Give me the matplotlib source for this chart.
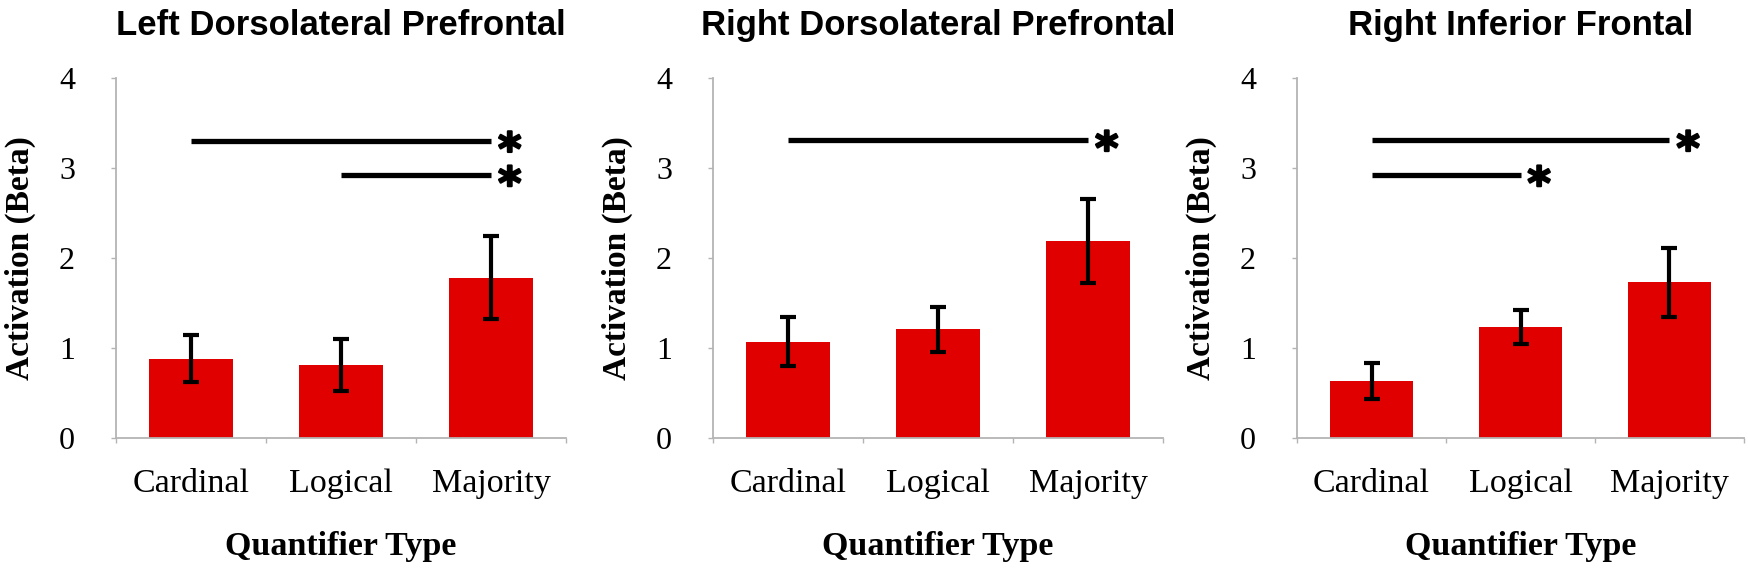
import numpy as np
import matplotlib.pyplot as plt
import matplotlib.patheffects as pe

# data
categories = ['Cardinal', 'Logical', 'Majority']
titles = ['Left Dorsolateral Prefrontal', 'Right Dorsolateral Prefrontal',
          'Right Inferior Frontal']

left_dlpfc = [0.88, 0.81, 1.78]
left_dlpfc_err = [0.26, 0.29, 0.46]
right_dlpfc = [1.07, 1.21, 2.19]
right_dlpfc_err = [0.27, 0.25, 0.47]
right_if = [0.63, 1.23, 1.73]
right_if_err = [0.20, 0.19, 0.385]

# significant pairs: (from, to, height)
left_dlpfc_sig = [(0, 2, 3.30), (1, 2, 2.92)]
right_dlpfc_sig = [(0, 2, 3.31)]
right_if_sig = [(0, 2, 3.31), (0, 1, 2.92)]

means = [left_dlpfc, right_dlpfc, right_if]
errors = [left_dlpfc_err, right_dlpfc_err, right_if_err]
sigs = [left_dlpfc_sig, right_dlpfc_sig, right_if_sig]

# theme
BAR_COLOR = '#e00000'
AXIS_COLOR = '#b4b4b4'
SERIF = 'Liberation Serif'
SANS = 'Liberation Sans'

W, H = 1749, 569
fig = plt.figure(figsize=(W / 100, H / 100), dpi=100)

lefts = [116, 713, 1297]
widths = [450, 450, 447]

for k in range(3):
    ax = fig.add_axes([lefts[k] / W, (H - 438) / H, widths[k] / W, 360 / H])
    x = np.arange(len(categories))
    ax.bar(x, means[k], width=0.56, color=BAR_COLOR, zorder=2,
           yerr=errors[k],
           error_kw=dict(ecolor='black', elinewidth=3.0, capsize=5.5,
                         capthick=3.0, zorder=3))

    for i, j, h in sigs[k]:
        ax.plot([x[i], x[j]], [h, h], color='black', lw=3.8,
                solid_capstyle='butt', zorder=4)
        ax.text(x[j] + 0.125, h - 0.07, '*', fontsize=32, fontweight='bold',
                family='DejaVu Sans', ha='center', va='center_baseline',
                path_effects=[pe.withStroke(linewidth=1.6,
                                            foreground='black')])

    ax.set_xlim(-0.5, 2.5)
    ax.set_ylim(0, 4)

    for side in ['top', 'right']:
        ax.spines[side].set_visible(False)
    for side in ['left', 'bottom']:
        ax.spines[side].set_color(AXIS_COLOR)
        ax.spines[side].set_linewidth(1.3)

    ax.set_yticks([0, 1, 2, 3, 4])
    ax.tick_params(axis='y', direction='out', length=3.5, width=1,
                   color=AXIS_COLOR, pad=26, labelsize=23)
    ax.set_xticks(x)
    ax.set_xticklabels(categories)
    ax.set_xticks([-0.5, 0.5, 1.5, 2.5], minor=True)
    ax.tick_params(axis='x', which='major', length=0, pad=22, labelsize=24.5)
    ax.tick_params(axis='x', which='minor', direction='out', length=3.5,
                   width=1, color=AXIS_COLOR)
    for lab in ax.get_xticklabels() + ax.get_yticklabels():
        lab.set_family(SERIF)

    ax.set_xlabel('Quantifier Type', family=SERIF, fontweight='bold',
                  fontsize=24.5, labelpad=23)
    ax.set_ylabel('Activation (Beta)', family=SERIF, fontweight='bold',
                  fontsize=24)
    ax.yaxis.set_label_coords(-80 / widths[k], 0.5)
    ax.set_title(titles[k], family=SANS, fontweight='bold', fontsize=25,
                 pad=31)

fig.savefig('out.png', dpi=100)
